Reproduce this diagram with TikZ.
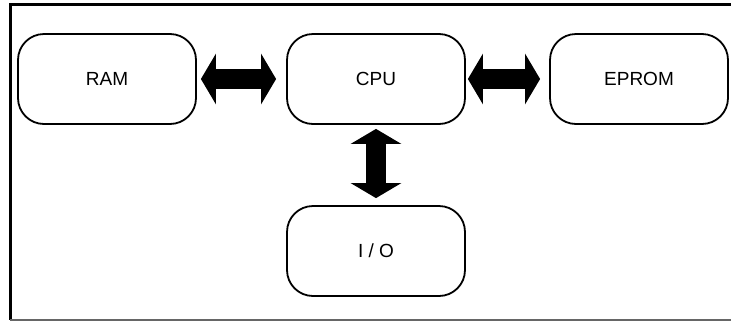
\documentclass[tikz,border=0pt]{standalone}
\usepackage{fontspec}
\setmainfont{Liberation Sans}
\usetikzlibrary{arrows.meta}

\begin{document}
\begin{tikzpicture}[x=1pt,y=-1pt,
  unit/.style={draw,line width=1.8pt,rounded corners=26pt,minimum width=178pt,
    minimum height=90pt,font=\fontsize{19}{22}\selectfont},
  bus/.style={line width=20pt,{Triangle[width=50pt,length=15pt]}-{Triangle[width=50pt,length=15pt]}}]
  \useasboundingbox (0,0) rectangle (731,322);
  \draw[line width=3pt] (731,4) -- (10,4) -- (10,320);
  \draw[line width=2pt,black!60] (10,320) -- (731,320);
  \node[unit] (ram) at (107,79) {RAM};
  \node[unit] (cpu) at (376,79) {CPU};
  \node[unit] (eprom) at (639,79) {EPROM};
  \node[unit] (io) at (376,251) {I / O};
  \draw[bus,shorten <=4pt,shorten >=10pt] (ram) -- (cpu);
  \draw[bus,shorten <=2pt,shorten >=9pt] (cpu) -- (eprom);
  \draw[bus,shorten <=4pt,shorten >=7pt] (cpu) -- (io);
\end{tikzpicture}
\end{document}
